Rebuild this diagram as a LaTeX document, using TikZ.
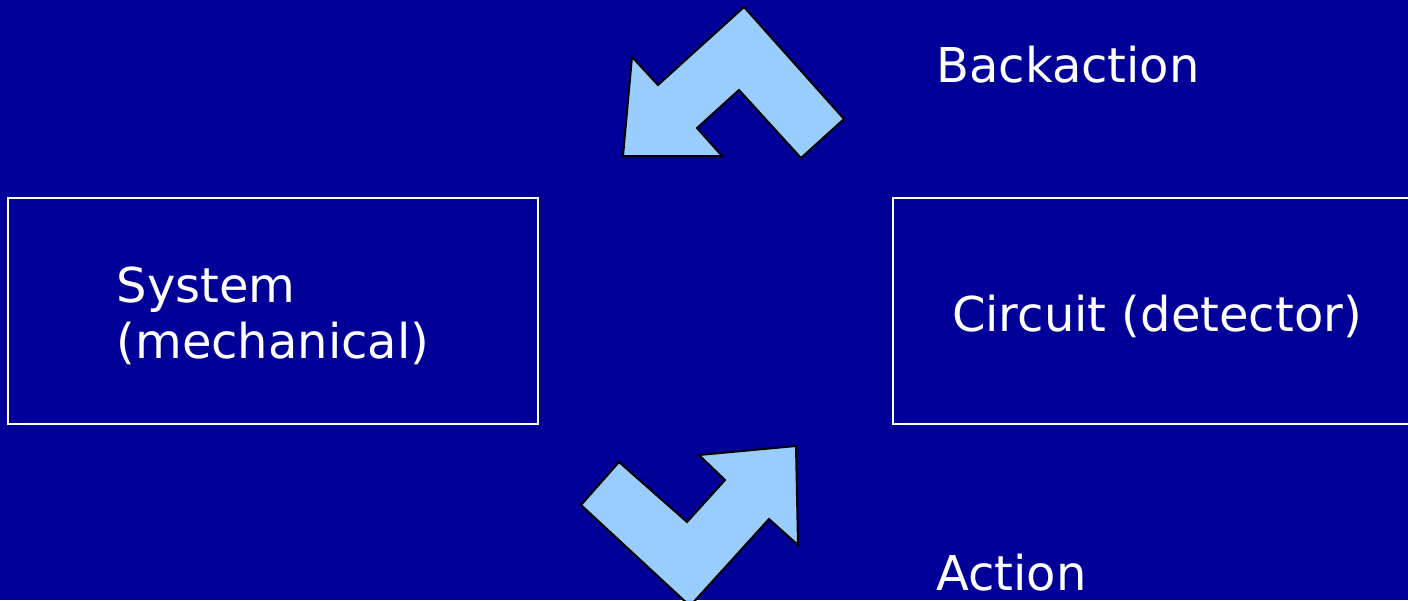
\documentclass[tikz,border=0pt]{standalone}
\usepackage{fontspec}
\setmainfont{DejaVu Sans}
\definecolor{bg}{RGB}{0,0,153}
\definecolor{arrowfill}{RGB}{153,204,255}
\begin{document}
\begin{tikzpicture}[x=0.75pt,y=-0.75pt,
  box/.style={draw=white,line width=1.5pt,minimum width=#1,minimum height=169.5pt,inner sep=0pt},
  lbl/.style={text=white,font=\fontsize{36}{42}\selectfont,inner sep=0pt,anchor=base west},
  bigarrow/.style={fill=arrowfill,draw=black,line width=1.5pt,line join=miter}]
\fill[bg] (0,0) rectangle (1408,600);
\useasboundingbox (0,0) rectangle (1408,600);
% boxes
\node[box=397.5pt] (sys) at (273,311) {};
\node[box=396pt] (circ) at (1157,311) {};
\node[text=white,font=\fontsize{36}{42}\selectfont,align=left,inner sep=0pt] (systxt) at (273,316) {System\\(mechanical)};
\node[text=white,font=\fontsize{36}{42}\selectfont,inner sep=0pt,anchor=base] (circtxt) at (1157,331) {Circuit (detector)};
% labels
\node[lbl] (back) at (936,82) {Backaction};
\node[lbl] (act) at (936,590) {Action};
% backaction arrow
\draw[bigarrow] (744,7) -- (844,119) -- (801,158) -- (739,90) -- (697,128) -- (722,156) -- (623,156) -- (632,57) -- (658,85) -- cycle;
% action arrow
\draw[bigarrow] (619,462) -- (687,522) -- (725,480) -- (699,455) -- (796,446) -- (798,545) -- (769,519) -- (690,606) -- (581,505) -- cycle;
\end{tikzpicture}
\end{document}
